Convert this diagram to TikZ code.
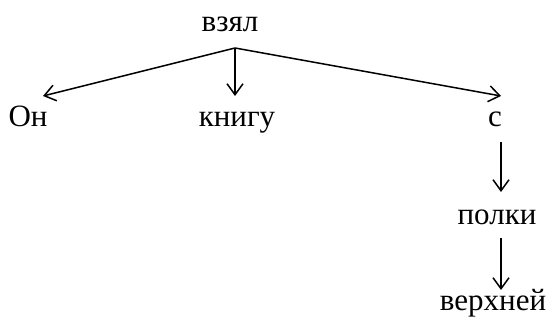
\documentclass[tikz,border=0pt]{standalone}
\usepackage{fontspec}
\setmainfont{Liberation Serif}
\usetikzlibrary{arrows.meta}
\begin{document}
\begin{tikzpicture}[x=0.5pt,y=-0.5pt,
  word/.style={inner sep=0pt,anchor=base,font=\fontsize{15.5pt}{18pt}\selectfont},
  link/.style={line width=0.75pt,-{Straight Barb[length=5.5pt,width=8pt,line width=0.75pt]}}]
\useasboundingbox (0,0) rectangle (550,324);
\node[word] (vzyal) at (230,32) {взял};
\node[word] (on) at (28,127) {Он};
\node[word] (knigu) at (237,127) {книгу};
\node[word] (s) at (495,127) {с};
\node[word] (polki) at (497,225) {полки};
\node[word] (verhnej) at (493,311) {верхней};
\coordinate (apex) at (235,48);
\coordinate (tOn) at (43,96);
\coordinate (tKnigu) at (235,96);
\coordinate (tS) at (501,96);
\coordinate (sBot) at (501,142);
\coordinate (tPolki) at (501,192);
\coordinate (pBot) at (501,238);
\coordinate (tVerh) at (501,290);
\draw[link] (apex) -- (tOn);
\draw[link] (apex) -- (tKnigu);
\draw[link] (apex) -- (tS);
\draw[link] (sBot) -- (tPolki);
\draw[link] (pBot) -- (tVerh);
\end{tikzpicture}
\end{document}
